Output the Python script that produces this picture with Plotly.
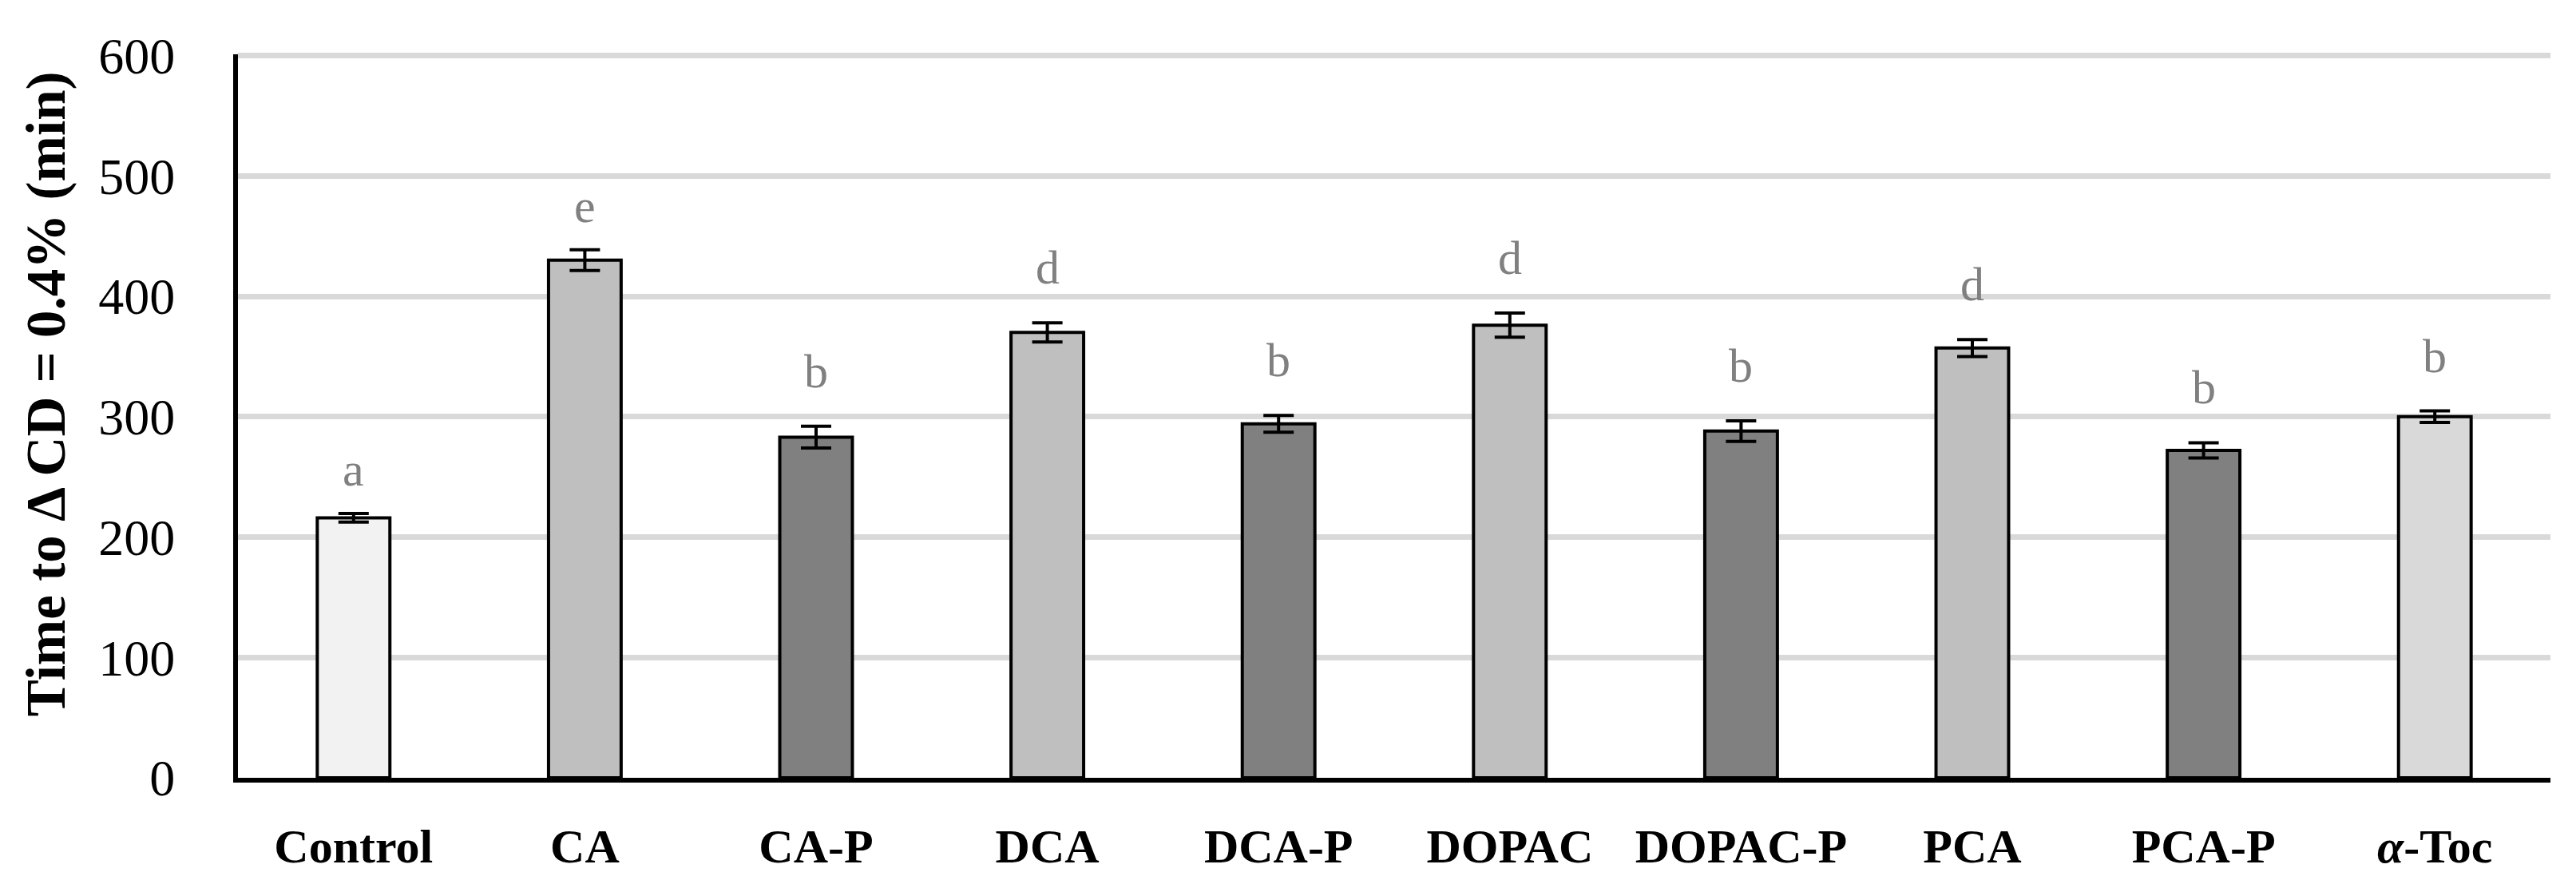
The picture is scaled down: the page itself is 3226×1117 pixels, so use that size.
import plotly.graph_objects as go

# 各組資料
categories = ["Control", "CA", "CA-P", "DCA", "DCA-P", "DOPAC", "DOPAC-P", "PCA", "PCA-P", "α-Toc"]
tick_labels = ["<b>Control</b>", "<b>CA</b>", "<b>CA-P</b>", "<b>DCA</b>", "<b>DCA-P</b>",
               "<b>DOPAC</b>", "<b>DOPAC-P</b>", "<b>PCA</b>", "<b>PCA-P</b>", "<b><i>α</i>-Toc</b>"]
times = [216, 430, 283, 370, 294, 376, 288, 357, 272, 300]
errors = [3.5, 8.6, 9, 8, 7, 10, 8.5, 7, 6.3, 4.8]
letters = ["a", "e", "b", "d", "b", "d", "b", "d", "b", "b"]
bar_colors = ["#f2f2f2", "#bfbfbf", "#808080", "#bfbfbf", "#808080",
              "#bfbfbf", "#808080", "#bfbfbf", "#808080", "#d9d9d9"]
y_ticks = [0, 100, 200, 300, 400, 500, 600]

SERIF = "Liberation Serif, Times New Roman, serif"

fig = go.Figure()
fig.add_trace(go.Bar(
    x=categories, y=times, width=0.314,
    marker=dict(color=bar_colors, line=dict(color="black", width=4)),
    error_y=dict(type="data", array=errors, color="black", thickness=4, width=19),
    showlegend=False
))

# 顯著性字母（有上伸部的字母在原圖中位置略高）
for cat, v, e, lt in zip(categories, times, errors, letters):
    fig.add_annotation(
        x=cat, y=v + e, text=lt, showarrow=False, yanchor="bottom",
        yshift=34 if lt in "bd" else 20,
        font=dict(family=SERIF, size=60, color="#808080")
    )

# y 軸標題
fig.add_annotation(
    xref="paper", yref="paper", x=-0.0828, y=0.531, textangle=-90,
    xanchor="center", yanchor="middle",
    text="<b>Time to Δ CD = 0.4% (min)</b>", showarrow=False,
    font=dict(family=SERIF, size=69, color="black")
)

# 頁面 body 有預設邊距，尺寸與邊界已扣除
fig.update_layout(
    width=3210, height=1101,
    plot_bgcolor="white", paper_bgcolor="white",
    margin=dict(l=290, r=24, t=60, b=135),
    bargap=0.69,
    xaxis=dict(
        type="category", range=[-0.5, 9.5],
        tickvals=categories, ticktext=tick_labels,
        showline=True, linecolor="black", linewidth=6,
        showgrid=False, ticks="", ticklabelstandoff=28,
        tickfont=dict(family=SERIF, size=60, color="black")
    ),
    yaxis=dict(
        range=[0, 601], tickvals=y_ticks,
        showline=True, linecolor="black", linewidth=6,
        showgrid=True, gridcolor="#d9d9d9", gridwidth=6.5,
        zeroline=False, ticks="", ticklabelstandoff=60,
        tickfont=dict(family=SERIF, size=64, color="black")
    )
)

fig.write_html("out.html")
